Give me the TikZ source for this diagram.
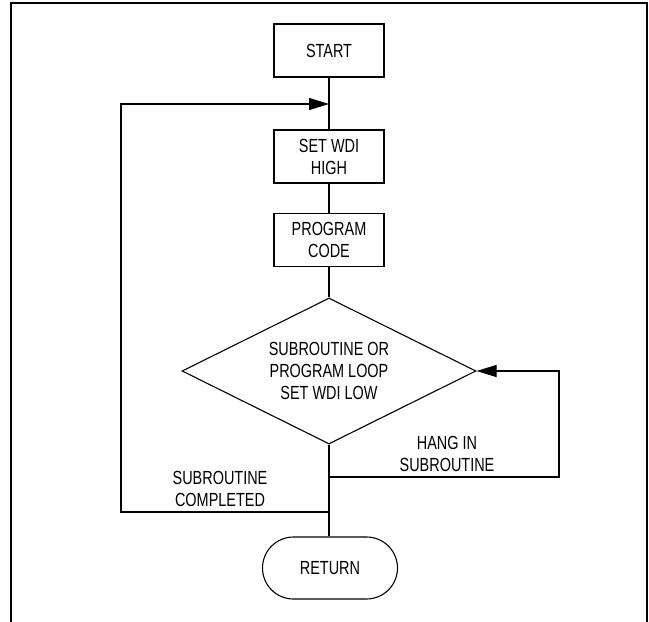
\documentclass[tikz,border=0pt]{standalone}
\usepackage{fontspec}
\setmainfont{Liberation Sans}[FakeStretch=0.76]
\usetikzlibrary{shapes.geometric,arrows.meta}
\begin{document}
\begin{tikzpicture}[x=1pt,y=-1pt,
  line width=1.1pt,
  every node/.style={font=\fontsize{19}{22}\selectfont, align=center},
  boxnode/.style={draw, rectangle, minimum width=110pt, minimum height=53pt, inner sep=0pt},
  decnode/.style={draw, diamond, shape aspect=2, minimum width=294pt, minimum height=146pt, inner sep=0pt},
  termnode/.style={draw, rectangle, rounded corners=31pt, minimum width=135pt, minimum height=62pt, inner sep=0pt},
  lbl/.style={inner sep=0pt},
  flow/.style={-{Triangle[length=20pt,width=12pt]}}
]
\useasboundingbox (0,0) rectangle (649,622);
% frame
\draw[line width=2.5pt] (11,622) -- (11,3) -- (647,3) -- (647,622);

\node[boxnode] (start) at (329,50.5) {START};
\node[boxnode] (setwdi) at (329,156.5) {SET WDI\\HIGH};
\node[boxnode] (prog) at (329,240) {PROGRAM\\CODE};
\node[decnode] (dec) at (329,371) {SUBROUTINE OR\\PROGRAM LOOP\\SET WDI LOW};
\node[termnode] (ret) at (330,568) {RETURN};

\coordinate (top) at (329,104);
\coordinate (hang) at (329,477);
\coordinate (done) at (329,512);
\coordinate (hangR) at (559,477);
\coordinate (hangRU) at (559,371);
\coordinate (doneL) at (121,512);
\coordinate (doneLU) at (121,104);

\draw (start.south) -- (setwdi.north);
\draw (setwdi.south) -- (prog.north);
\draw (prog.south) -- (dec.north);
\draw (dec.south) -- (dec.south |- ret.north);

\draw[flow] (hang) -- (hangR) -- (hangRU) -- (dec.east);
\draw[flow] (done) -- (doneL) -- (doneLU) -- (top);

\node[lbl] (lhang) at (447,454) {HANG IN\\SUBROUTINE};
\node[lbl] (ldone) at (220,489) {SUBROUTINE\\COMPLETED};
\end{tikzpicture}
\end{document}
